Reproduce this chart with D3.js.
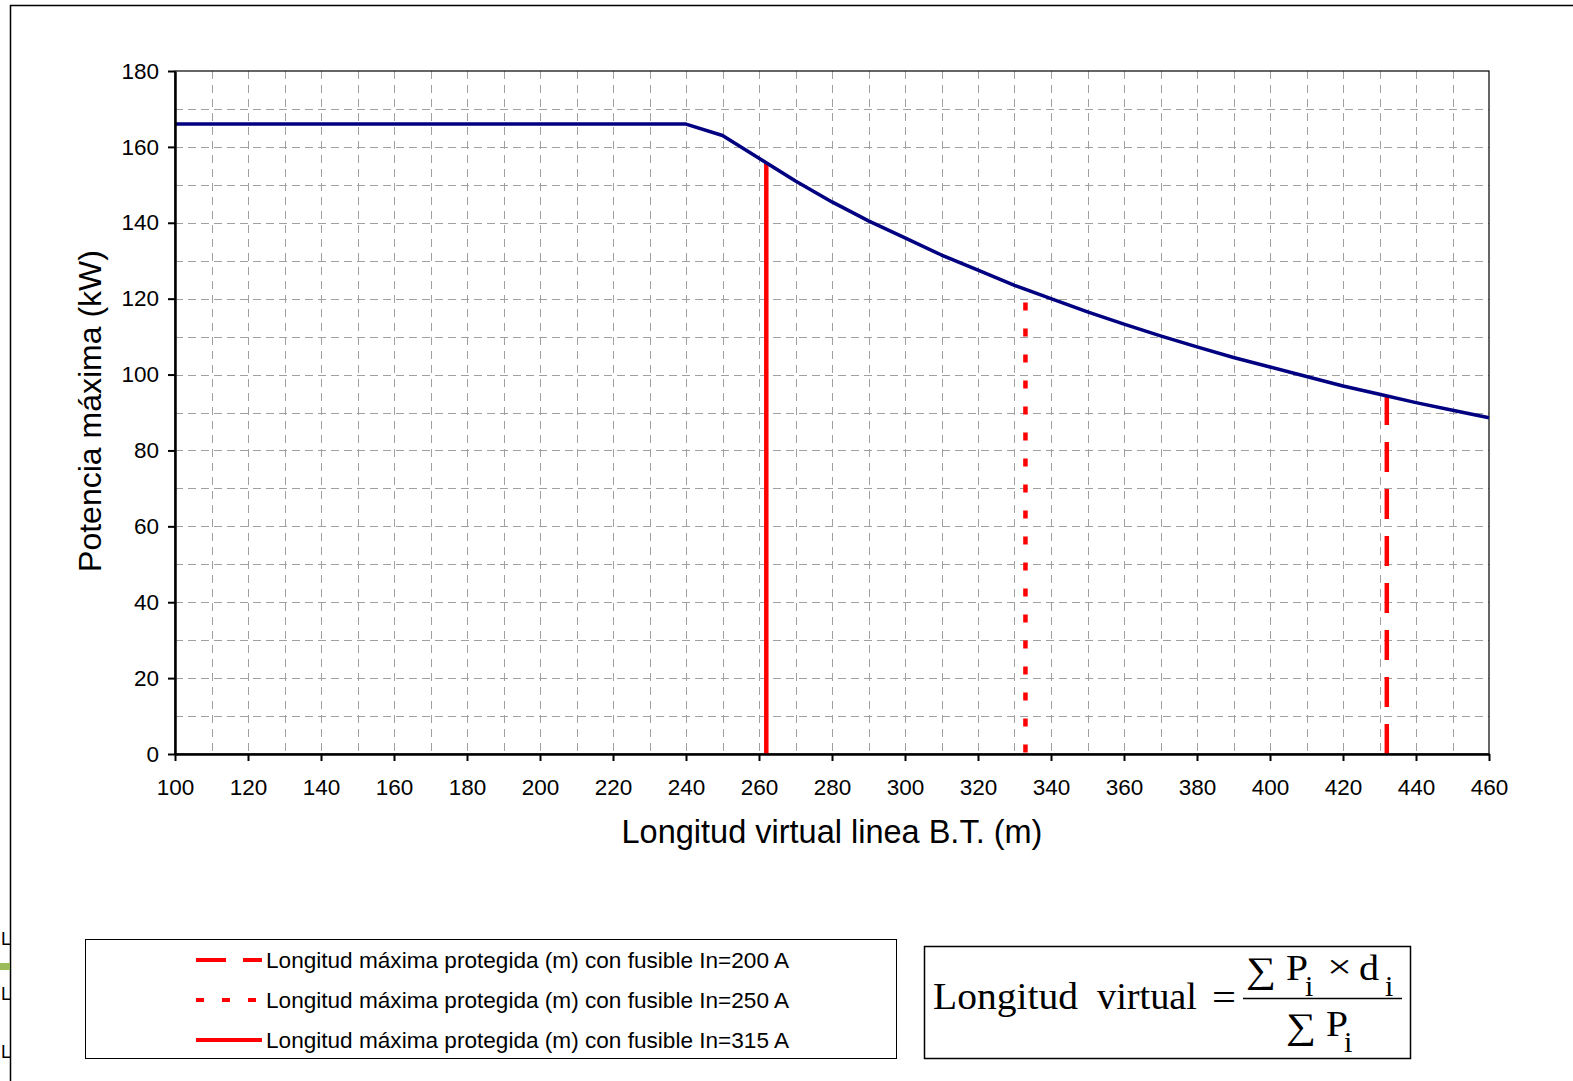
<!DOCTYPE html>
<html>
<head>
<meta charset="utf-8">
<script src="https://cdn.jsdelivr.net/npm/d3@7"></script>
<style>
  html, body { margin: 0; padding: 0; background: #fff; overflow: hidden; }
  svg { display: block; }
  text { font-family: Arial, "Liberation Sans", sans-serif; }
  .grid line { stroke: #a0a0a0; stroke-width: 1; }
  .axis path, .axis line { stroke: #000; }
  .axis text { font-size: 22.5px; fill: #000; font-family: Arial, "Liberation Sans", sans-serif; }
  .serif { font-family: "Liberation Serif", "Times New Roman", serif; }
</style>
</head>
<body>
<div id="chart"></div>
<script>
// data
var longitudes = [100, 110, 120, 130, 140, 150, 160, 170, 180, 190, 200, 210, 220, 230, 240,
                  250, 260, 270, 280, 290, 300, 310, 320, 330, 340, 350, 360, 370, 380, 390,
                  400, 410, 420, 430, 440, 450, 460];
var potencias = [166, 166, 166, 166, 166, 166, 166, 166, 166, 166, 166, 166, 166, 166, 166,
                 163, 157, 151, 145.5, 140.5, 136, 131.5, 127.5, 123.5, 120, 116.5, 113.3, 110.2, 107.3, 104.5,
                 102, 99.5, 97, 94.8, 92.6, 90.6, 88.6];

var fusibles = ["In=200 A", "In=250 A", "In=315 A"];
var longMax = [432, 333, 262];
var potMax = [94.6, 119, 155.7];

var xTicks = d3.range(100, 461, 20);
var yTicks = d3.range(0, 181, 20);

var W = 1573, H = 1081;
var margin = {top: 71, right: 84, bottom: 327, left: 175},
    width = W - margin.left - margin.right,
    height = H - margin.top - margin.bottom;

var dashes = {"In=200 A": "30,17", "In=250 A": "8,18", "In=315 A": null};

var svg = d3.select("#chart").append("svg")
    .attr("width", W)
    .attr("height", H);

// outer frame (only top and left visible)
svg.append("path")
    .attr("d", "M10.5," + H + "V5.5H" + W)
    .attr("fill", "none")
    .attr("stroke", "#000")
    .attr("stroke-width", 1.5);

// bits at left edge
svg.append("rect").attr("x", 0).attr("y", 963).attr("width", 10).attr("height", 7).attr("fill", "#9bbb59");
[945, 1000, 1058].forEach(function(yy) {
  svg.append("text").attr("x", 1).attr("y", yy).attr("font-size", 18).text("L");
});

var g = svg.append("g")
    .attr("transform", "translate(" + margin.left + "," + margin.top + ")");

var x = d3.scaleLinear().domain([100, 460]).range([0, width]);
var y = d3.scaleLinear().domain([0, 180]).range([height, 0]);

// grid every 10
g.append("g").attr("class", "grid")
  .selectAll("line")
  .data(d3.range(10, 180, 10))
  .enter().append("line")
    .attr("x1", 0).attr("x2", width)
    .attr("y1", function(d) { return Math.round(y(d)) + 0.5; })
    .attr("y2", function(d) { return Math.round(y(d)) + 0.5; })
    .attr("stroke-dasharray", "8,5");

g.append("g").attr("class", "grid")
  .selectAll("line")
  .data(d3.range(110, 460, 10))
  .enter().append("line")
    .attr("y1", 0).attr("y2", height)
    .attr("x1", function(d) { return Math.round(x(d)) + 0.5; })
    .attr("x2", function(d) { return Math.round(x(d)) + 0.5; })
    .attr("stroke-dasharray", "8,6");

// plot border
g.append("rect")
    .attr("width", width).attr("height", height)
    .attr("fill", "none").attr("stroke", "#000").attr("stroke-width", 1.2);

// red vertical limits
g.selectAll(".limite")
  .data(fusibles)
  .enter().append("line")
    .attr("class", "limite")
    .attr("x1", function(d, i) { return x(longMax[i]); })
    .attr("x2", function(d, i) { return x(longMax[i]); })
    .attr("y1", function(d, i) { return y(potMax[i]); })
    .attr("y2", y(0))
    .attr("stroke", "#ff0000")
    .attr("stroke-width", 4.5)
    .attr("stroke-dasharray", function(d) { return dashes[d]; });

// curve
var line = d3.line()
    .x(function(d, i) { return x(longitudes[i]); })
    .y(function(d) { return y(d); });

g.append("path")
    .datum(potencias)
    .attr("fill", "none")
    .attr("stroke", "#000080")
    .attr("stroke-width", 3.5)
    .attr("stroke-linejoin", "round")
    .attr("d", line);

// axes
g.append("g")
    .attr("class", "axis")
    .attr("transform", "translate(0," + height + ")")
    .call(d3.axisBottom(x).tickValues(xTicks).tickSize(7).tickPadding(18).tickSizeOuter(0))
  .call(function(a) { a.select(".domain").attr("stroke-width", 2.5); a.selectAll("line").attr("stroke-width", 2); });

g.append("g")
    .attr("class", "axis")
    .call(d3.axisLeft(y).tickValues(yTicks).tickSize(7).tickPadding(9).tickSizeOuter(0))
  .call(function(a) { a.select(".domain").attr("stroke-width", 2.5); a.selectAll("line").attr("stroke-width", 2); });

// axis titles
svg.append("text")
    .attr("x", 832)
    .attr("y", 843)
    .attr("text-anchor", "middle")
    .attr("font-size", 32.5)
    .text("Longitud virtual linea B.T. (m)");

svg.append("text")
    .attr("transform", "translate(101,411) rotate(-90)")
    .attr("text-anchor", "middle")
    .attr("font-size", 32)
    .text("Potencia máxima (kW)");

// legend
var leg = svg.append("g");
leg.append("rect")
    .attr("x", 85.5).attr("y", 939.5).attr("width", 811).attr("height", 119)
    .attr("fill", "#fff").attr("stroke", "#000").attr("stroke-width", 1);

var item = leg.selectAll(".item")
  .data(fusibles)
  .enter().append("g")
    .attr("transform", function(d, i) { return "translate(0," + (960 + i * 40) + ")"; });

item.append("line")
    .attr("x1", 196).attr("x2", 262)
    .attr("stroke", "#ff0000")
    .attr("stroke-width", 4)
    .attr("stroke-dasharray", function(d) { return dashes[d]; });

item.append("text")
    .attr("x", 266).attr("dy", "0.35em")
    .attr("font-size", 22.6)
    .text(function(d) { return "Longitud máxima protegida (m) con fusible " + d; });

// formula box
var f = svg.append("g");
f.append("rect")
    .attr("x", 924.5).attr("y", 946.5).attr("width", 486).attr("height", 112)
    .attr("fill", "#fff").attr("stroke", "#000").attr("stroke-width", 1.5);
f.append("line").attr("x1", 1243).attr("x2", 1402).attr("y1", 998.5).attr("y2", 998.5)
    .attr("stroke", "#000").attr("stroke-width", 1.5);

function sym(xx, yy, s, size, len) {
  var t = f.append("text").attr("class", "serif")
    .attr("x", xx).attr("y", yy).attr("font-size", size).text(s);
  if (len) t.attr("textLength", len).attr("lengthAdjust", "spacingAndGlyphs");
}
sym(933, 1009, "Longitud", 37, 145);
sym(1097, 1009, "virtual", 37, 100);
sym(1212, 1010, "=", 37, 24);
sym(1246, 982, "\u2211", 36, 30);
sym(1286, 980, "P", 36, 22);
sym(1305, 996, "i", 30);
sym(1327, 978, "\u00d7", 34, 25);
sym(1359, 980, "d", 36, 20);
sym(1385, 996, "i", 30);
sym(1286, 1038, "\u2211", 36, 30);
sym(1326, 1036, "P", 36, 22);
sym(1344, 1052, "i", 30);
</script>
</body>
</html>
